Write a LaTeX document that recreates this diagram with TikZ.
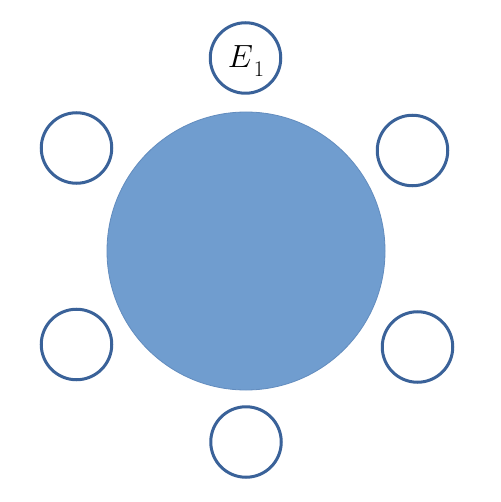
\documentclass[tikz,border=0pt]{standalone}
\definecolor{bigfill}{RGB}{112,157,207}
\definecolor{bigline}{RGB}{98,140,190}
\definecolor{ringcol}{RGB}{58,98,153}
\begin{document}
\begin{tikzpicture}[x=1pt,y=-1pt,
  ring/.style={circle,draw=ringcol,line width=3pt,fill=white,minimum size=70.5pt,inner sep=0pt},
  big/.style={circle,draw=bigline,line width=0.8pt,fill=bigfill,minimum size=278pt,inner sep=0pt}]
\useasboundingbox (0,0) rectangle (500,502);
\fill[white] (0,0) rectangle (500,502);
\node[big] (core) at (246,251) {};
\node[ring] (e1) at (245.5,58) {};
\node[inner sep=0pt,scale=1.29] (lbl) at (246,61) {\Huge$E$\kern0.5pt\raisebox{-7.5pt}{\LARGE 1}};
\node[ring] (tl) at (76.5,148) {};
\node[ring] (tr) at (412.5,150.5) {};
\node[ring] (bl) at (76.5,344.5) {};
\node[ring] (br) at (417.5,347) {};
\node[ring] (bt) at (246,442) {};
\end{tikzpicture}
\end{document}
